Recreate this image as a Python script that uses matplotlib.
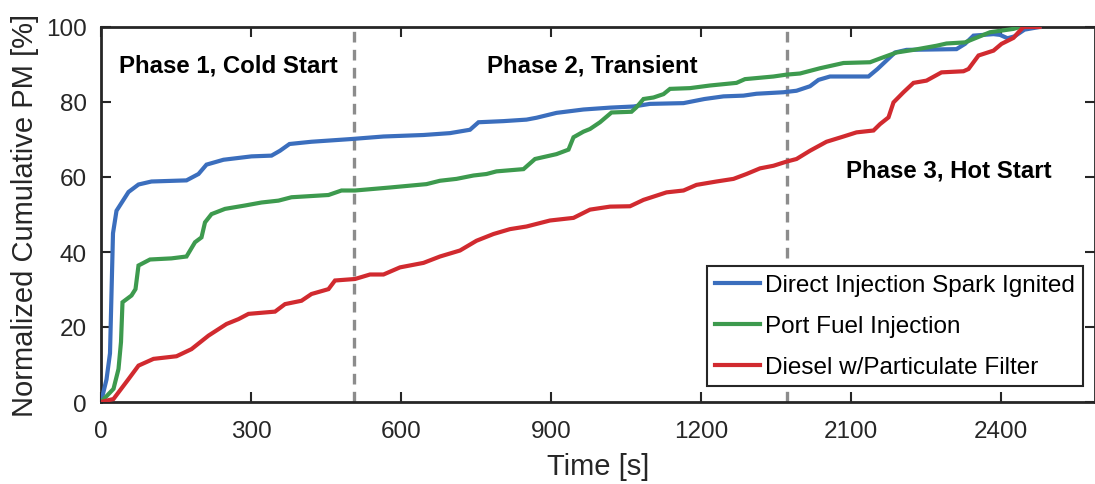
import matplotlib
matplotlib.use("Agg")
import matplotlib.pyplot as plt

plt.rcParams['font.family'] = ['Liberation Sans', 'DejaVu Sans']

# Time axis: phase 3 is shifted back so it follows phase 2 directly
tick_pos = [0, 300, 600, 900, 1200, 1500, 1800]
tick_labels = ['0', '300', '600', '900', '1200', '2100', '2400']
phase_bounds = [506, 1372]

disi_t = [0, 11, 18, 24, 31, 55, 75, 101, 171, 195, 211, 245, 301, 341, 358, 377,
          421, 498, 565, 645, 698, 738, 755, 805, 851, 871, 911, 965, 1018, 1065,
          1098, 1165, 1207, 1245, 1285, 1311, 1365, 1391, 1418, 1435, 1458, 1535,
          1553, 1588, 1611, 1711, 1728, 1745, 1785, 1798, 1813, 1827, 1847, 1877]
disi_v = [0, 6, 13, 45, 51, 56, 58, 58.8, 59.1, 60.8, 63.3, 64.6, 65.5, 65.7, 67,
          68.8, 69.4, 70.1, 70.8, 71.2, 71.7, 72.6, 74.6, 74.9, 75.3, 75.8, 77.1,
          78, 78.5, 78.8, 79.5, 79.7, 80.8, 81.5, 81.7, 82.2, 82.6, 83, 84.2, 85.9,
          86.8, 86.8, 88.8, 93.2, 93.9, 94.1, 95.5, 97.7, 98.1, 97.9, 97, 97.5,
          99.3, 100]

pfi_t = [0, 25, 35, 40, 43, 61, 69, 75, 98, 141, 171, 188, 201, 208, 221, 248,
         288, 321, 355, 381, 455, 481, 508, 578, 651, 678, 711, 745, 771, 791, 845,
         868, 911, 935, 945, 965, 978, 998, 1021, 1061, 1071, 1085, 1105, 1125,
         1138, 1178, 1218, 1271, 1288, 1345, 1371, 1398, 1438, 1485, 1538, 1558,
         1591, 1625, 1671, 1691, 1728, 1778, 1825, 1838]
pfi_v = [0, 3.5, 8.8, 16, 26.6, 28.4, 30.1, 36.4, 38, 38.3, 38.8, 42.6, 43.9, 47.9,
         50.1, 51.5, 52.4, 53.2, 53.7, 54.6, 55.2, 56.4, 56.4, 57.2, 58.1, 59, 59.5,
         60.4, 60.8, 61.5, 62.1, 64.8, 66.1, 67.3, 70.6, 72.1, 72.8, 74.6, 77.2,
         77.4, 78.6, 80.8, 81.2, 82.1, 83.5, 83.7, 84.4, 85.1, 86.1, 86.8, 87.3,
         87.6, 89, 90.4, 90.6, 91.6, 93.2, 93.9, 95, 95.6, 95.9, 98.6, 99.5, 100]

dpf_t = [0, 25, 55, 75, 105, 151, 181, 215, 251, 275, 295, 348, 368, 401, 421,
         455, 468, 508, 538, 565, 598, 645, 678, 718, 751, 785, 818, 851, 898, 945,
         978, 1018, 1058, 1085, 1131, 1165, 1191, 1231, 1265, 1291, 1318, 1345,
         1371, 1391, 1418, 1451, 1485, 1511, 1545, 1558, 1575, 1585, 1605, 1625,
         1651, 1681, 1725, 1735, 1755, 1785, 1801, 1825, 1835, 1845, 1877]
dpf_v = [0, 0.8, 6.1, 9.7, 11.5, 12.2, 14.1, 17.7, 20.8, 22.1, 23.5, 24.1, 26.1,
         27, 28.8, 30.1, 32.4, 32.8, 34, 34, 35.9, 37.1, 38.8, 40.4, 43, 44.8, 46.1,
         46.8, 48.4, 49.1, 51.3, 52.1, 52.2, 53.9, 55.9, 56.4, 57.9, 58.8, 59.5,
         60.8, 62.3, 63, 64.1, 64.8, 67, 69.4, 70.8, 71.9, 72.4, 74.1, 75.9, 79.9,
         82.6, 85.1, 85.7, 87.9, 88.2, 88.8, 92.4, 93.7, 95.5, 97.1, 98.6, 100, 100]

series = [
    ("Direct Injection Spark Ignited", disi_t, disi_v, "#3b6ebd"),
    ("Port Fuel Injection", pfi_t, pfi_v, "#3d9a4e"),
    ("Diesel w/Particulate Filter", dpf_t, dpf_v, "#d12a2f"),
]

fig = plt.figure(figsize=(10.95, 4.85), dpi=100)
ax = fig.add_axes([101 / 1095, 1 - 403 / 485, 994 / 1095, 375 / 485])

for xb in phase_bounds:
    ax.axvline(xb, color="#8c8c8c", lw=2.4, ls=(0, (3.2, 2.2)), zorder=1)

for name, t, v, c in series:
    ax.plot(t, v, color=c, lw=3.0, label=name, zorder=3, solid_joinstyle='miter')

ax.set_xlim(0, 1988)
ax.set_ylim(0, 100)
ax.set_xticks(tick_pos)
ax.set_xticklabels(tick_labels)
ax.set_yticks([0, 20, 40, 60, 80, 100])
ax.tick_params(direction='in', length=7, width=1.5, top=True, right=True,
               labelsize=17.5, colors='#262626')
ax.tick_params(axis='x', pad=13)
ax.tick_params(axis='y', pad=10)
for s in ax.spines.values():
    s.set_linewidth(2.0)
    s.set_color('#262626')

ax.set_xlabel("Time [s]", fontsize=21, color='#262626', labelpad=7)
ax.set_ylabel("Normalized Cumulative PM [%]", fontsize=21, color='#262626', labelpad=5)

bold = dict(fontsize=17.3, fontweight='bold', color='black', va='center', ha='left')
ax.text(36, 89.8, "Phase 1, Cold Start", **bold)
ax.text(772, 89.8, "Phase 2, Transient", **bold)
ax.text(1490, 61.8, "Phase 3, Hot Start", **bold)

leg = ax.legend(loc='lower right', bbox_to_anchor=((1083 - 101) / 994, (403 - 387) / 375),
                fontsize=17.5, frameon=True, fancybox=False, edgecolor='#262626',
                handlelength=1.85, handletextpad=0.22, labelspacing=0.78,
                borderpad=0.32, borderaxespad=0.0)
leg.get_frame().set_linewidth(1.5)
leg.get_frame().set_alpha(1)

fig.savefig("out.png", dpi=100)
